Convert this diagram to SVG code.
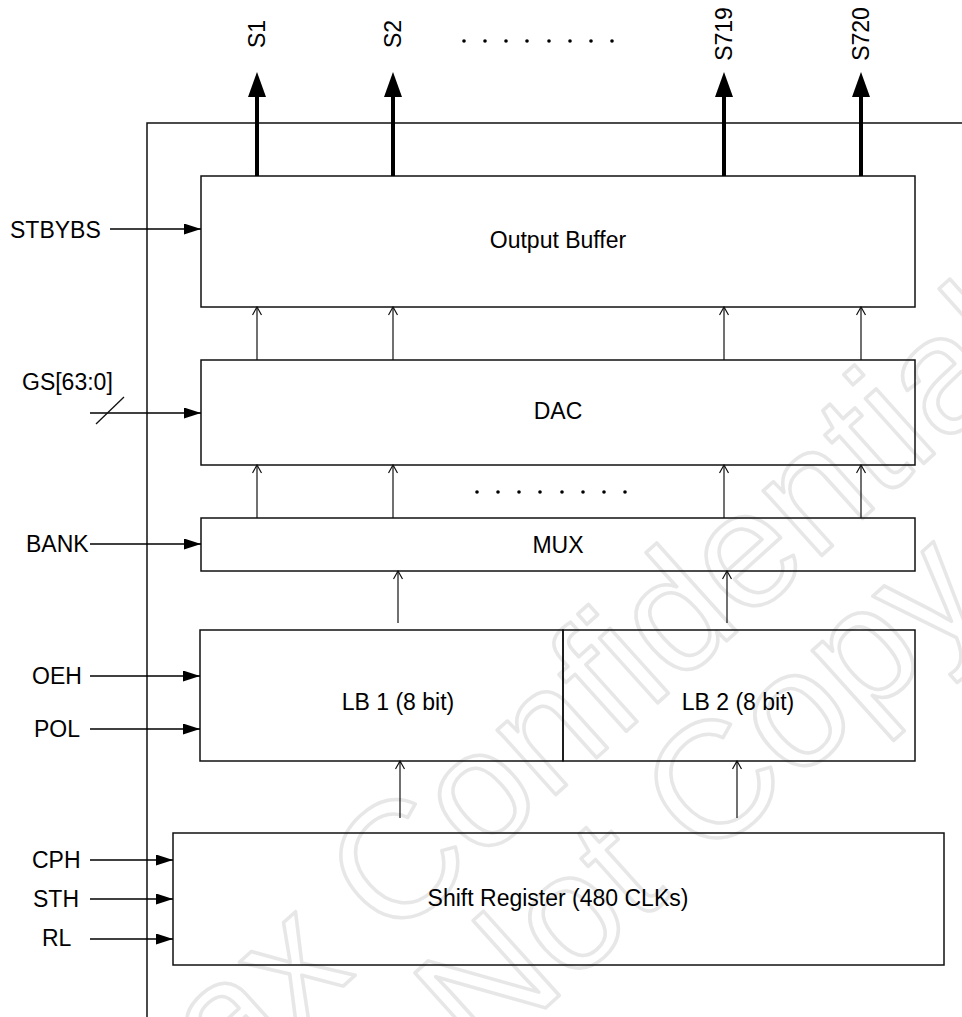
<svg xmlns="http://www.w3.org/2000/svg" width="962" height="1017" viewBox="0 0 962 1017">
<style>
text{font-family:"Liberation Sans",Arial,sans-serif;font-size:23px;fill:#000}
.box{fill:none;stroke:#111;stroke-width:1.5}
.ln{fill:none;stroke:#111;stroke-width:1.3}
.in{fill:none;stroke:#000;stroke-width:1.3;marker-end:url(#fa)}
.up{fill:none;stroke:#111;stroke-width:1.2;marker-end:url(#oa)}
.out{fill:none;stroke:#000;stroke-width:4;marker-end:url(#ba)}
.wm{font-size:165px;fill:none;stroke:#e7e7e7;stroke-width:3.5;stroke-linejoin:round}
.c{text-anchor:middle}
</style>
<defs>
<marker id="fa" markerUnits="userSpaceOnUse" viewBox="0 0 17 11" refX="17" refY="5.5" markerWidth="17" markerHeight="11" orient="auto"><path d="M0,0 L17,5.5 L0,11 Z" fill="#000"/></marker>
<marker id="oa" markerUnits="userSpaceOnUse" viewBox="-1 -1 10 11" refX="8" refY="4.5" markerWidth="10" markerHeight="11" orient="auto"><path d="M0,0 L8,4.5 L0,9" fill="none" stroke="#111" stroke-width="1.2"/></marker>
<marker id="ba" markerUnits="userSpaceOnUse" viewBox="0 0 25 18" refX="0" refY="9" markerWidth="25" markerHeight="18" orient="auto"><path d="M0,0 L25,9 L0,18 Z" fill="#000"/></marker>
</defs>
<rect width="962" height="1017" fill="#fff"/>
<g id="watermark">
<text class="wm" transform="translate(9,1287) rotate(-42)">Himax Confidential</text>
<text class="wm" transform="translate(290,1238) rotate(-42)">Do Not Copy</text>
</g>
<g id="frame"><path class="box" d="M147,1017 V123 H962"/></g>
<g id="output-buffer"><rect class="box" x="201" y="176" width="714" height="131"/><text class="c" x="558" y="248">Output Buffer</text></g>
<g id="dac"><rect class="box" x="201" y="360" width="714" height="105"/><text class="c" x="558" y="419">DAC</text></g>
<g id="mux"><rect class="box" x="201" y="518" width="714" height="53"/><text class="c" x="558" y="553">MUX</text></g>
<g id="lb1"><rect class="box" x="200" y="630" width="363" height="131"/><text class="c" x="398" y="710">LB 1 (8 bit)</text></g>
<g id="lb2"><rect class="box" x="563" y="630" width="352" height="131"/><text class="c" x="738" y="710">LB 2 (8 bit)</text></g>
<g id="shift-register"><rect class="box" x="173" y="833" width="771" height="132"/><text class="c" x="558" y="906">Shift Register (480 CLKs)</text></g>
<g id="outputs">
<text class="c" transform="translate(265,34) rotate(-90)">S1</text>
<text class="c" transform="translate(401,34) rotate(-90)">S2</text>
<text class="c" transform="translate(732,34) rotate(-90)">S719</text>
<text class="c" transform="translate(869,34) rotate(-90)">S720</text>
<g fill="#000"><circle cx="464" cy="41" r="1.8"/><circle cx="485" cy="41" r="1.8"/><circle cx="506" cy="41" r="1.8"/><circle cx="527" cy="41" r="1.8"/><circle cx="549" cy="41" r="1.8"/><circle cx="570" cy="41" r="1.8"/><circle cx="591" cy="41" r="1.8"/><circle cx="612" cy="41" r="1.8"/></g>
</g>
<g id="inputs">
<text x="10" y="238">STBYBS</text>
<text x="22" y="390">GS[63:0]</text>
<text x="26" y="552">BANK</text>
<text x="32" y="684">OEH</text>
<text x="34" y="737">POL</text>
<text x="32" y="868">CPH</text>
<text x="33" y="907">STH</text>
<text x="42" y="946">RL</text>
</g>
<g id="connectors">
<path class="out" d="M257,176 V97"/>
<path class="out" d="M393,176 V97"/>
<path class="out" d="M724,176 V97"/>
<path class="out" d="M861,176 V97"/>
<path class="in" d="M110,229 H201"/>
<path class="in" d="M90,413 H201"/>
<path class="ln" d="M96,424 L124,397"/>
<path class="in" d="M90,544 H201"/>
<path class="in" d="M90,676 H200"/>
<path class="in" d="M90,729 H200"/>
<path class="in" d="M90,860 H173"/>
<path class="in" d="M90,899 H173"/>
<path class="in" d="M90,939 H173"/>
<path class="up" d="M257,360 V307"/>
<path class="up" d="M393,360 V307"/>
<path class="up" d="M724,360 V307"/>
<path class="up" d="M861,360 V307"/>
<path class="up" d="M257,518 V465"/>
<path class="up" d="M393,518 V465"/>
<path class="up" d="M724,518 V465"/>
<path class="up" d="M861,518 V465"/>
<path class="up" d="M398,623 V571"/>
<path class="up" d="M727,623 V571"/>
<path class="up" d="M400,818 V761"/>
<path class="up" d="M737,818 V761"/>
<g fill="#000"><circle cx="477" cy="492" r="1.8"/><circle cx="498" cy="492" r="1.8"/><circle cx="519" cy="492" r="1.8"/><circle cx="540" cy="492" r="1.8"/><circle cx="562" cy="492" r="1.8"/><circle cx="583" cy="492" r="1.8"/><circle cx="604" cy="492" r="1.8"/><circle cx="625" cy="492" r="1.8"/></g>
</g>
</svg>
